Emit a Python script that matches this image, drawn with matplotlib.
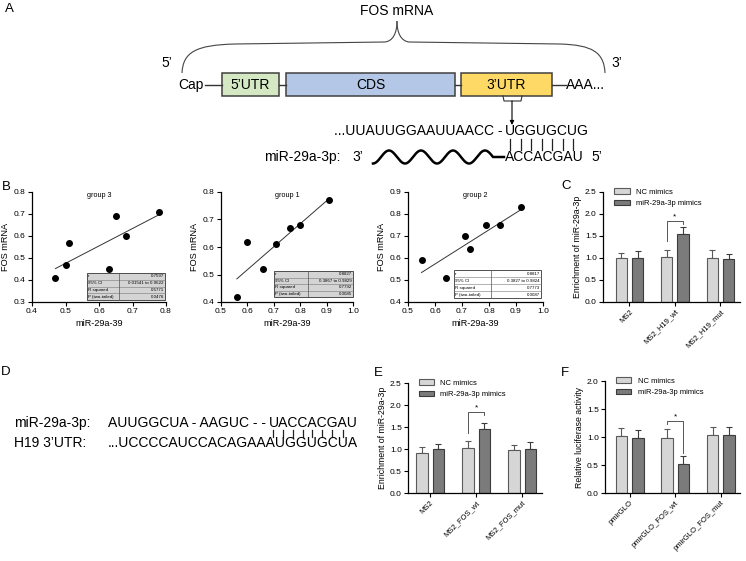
import numpy as np
import matplotlib
matplotlib.use('Agg')
import matplotlib.pyplot as plt
from matplotlib.patches import Rectangle, PathPatch, Patch
from matplotlib.path import Path
from matplotlib.font_manager import FontProperties
from matplotlib.ticker import FormatStrFormatter, MultipleLocator

plt.rcParams['font.family'] = ['Liberation Sans', 'DejaVu Sans']
FAM = ['Liberation Sans', 'DejaVu Sans']

# ------------------------------------------------------------------ data
# Panel A
mrna_regions = ["5\u2019UTR", "CDS", "3\u2019UTR"]
region_colors = ['#d5e8c4', '#b4c7e7', '#ffd966']
fos_upstream = "...UUAUUGGAAUUAACC -"
fos_site = "UGGUGCUG"
mir_seed_A = "ACCACGAU"
n_pairs_A = 7
# Panel D
mir_prefix_D = "AUUGGCUA - AAGUC - -"
mir_seed_D = "UACCACGAU"
h19_line_D = "...UCCCCAUCCACAGAAAUGGUGCUA"
n_pairs_D = 8

# Panel B
group_titles = ['group 3', 'group 1', 'group 2']
mir_g3 = [0.47, 0.50, 0.51, 0.63, 0.65, 0.68, 0.78]
fos_g3 = [0.41, 0.47, 0.57, 0.45, 0.69, 0.60, 0.71]
mir_g1 = [0.56, 0.60, 0.66, 0.71, 0.76, 0.80, 0.91]
fos_g1 = [0.42, 0.62, 0.52, 0.61, 0.67, 0.68, 0.77]
mir_g2 = [0.55, 0.64, 0.71, 0.73, 0.79, 0.84, 0.92]
fos_g2 = [0.59, 0.51, 0.70, 0.64, 0.75, 0.75, 0.83]
stats_rows = ['r', '95% CI', 'R squared', 'P (two-tailed)']
stats_g3 = ['0.7597', '0.01541 to 0.9622', '0.5771', '0.0476']
stats_g1 = ['0.8827', '0.3867 to 0.9829', '0.7792', '0.0085']
stats_g2 = ['0.8817', '0.3827 to 0.9824', '0.7773', '0.0087']

# Bar panels
legend_labels = ['NC mimics', 'miR-29a-3p mimics']
cats_C = ['MS2', 'MS2_H19_wt', 'MS2_H19_mut']
nc_C = [0.99, 1.03, 1.01]
nc_C_sd = [0.13, 0.16, 0.18]
mir_C = [1.01, 1.55, 0.97]
mir_C_sd = [0.14, 0.16, 0.12]
sig_C = [1.38, 1.84, 1.78]

cats_E = ['MS2', 'MS2_FOS_wt', 'MS2_FOS_mut']
nc_E = [0.92, 1.03, 0.98]
nc_E_sd = [0.12, 0.15, 0.12]
mir_E = [0.99, 1.46, 1.00]
mir_E_sd = [0.12, 0.13, 0.15]
sig_E = [1.37, 1.84, 1.78]

cats_F = ['pmirGLO', 'pmirGLO_FOS_wt', 'pmirGLO_FOS_mut']
nc_F = [1.02, 0.98, 1.03]
nc_F_sd = [0.14, 0.16, 0.14]
mir_F = [0.98, 0.52, 1.04]
mir_F_sd = [0.14, 0.14, 0.13]
sig_F = [1.23, 1.29, 0.72]

# ------------------------------------------------------------------ figure
W, H = 746, 561
fig = plt.figure(figsize=(W / 100, H / 100), dpi=100)


def px_axes(x0, y0, x1, y1):
    return fig.add_axes([x0 / W, 1 - y1 / H, (x1 - x0) / W, (y1 - y0) / H])


def text_w(renderer, s, size):
    fp = FontProperties(family=FAM, size=size)
    w, h, d = renderer.get_text_width_height_descent(s, fp, ismath=False)
    return w


def style_axes(ax):
    for s in ['top', 'right']:
        ax.spines[s].set_visible(False)
    for s in ['left', 'bottom']:
        ax.spines[s].set_linewidth(0.9)
    ax.tick_params(direction='out', length=3, width=0.8, labelsize=6, pad=1.5)


# ------------------------------------------------------------------ Panel B
b_axes_px = [(32, 192, 166, 302), (221, 192, 353, 302), (408, 192, 543, 302)]
b_xlims = [(0.4, 0.8), (0.5, 1.0), (0.5, 1.0)]
b_ylims = [(0.3, 0.8), (0.4, 0.8), (0.4, 0.9)]
b_data = [(mir_g3, fos_g3, stats_g3), (mir_g1, fos_g1, stats_g1), (mir_g2, fos_g2, stats_g2)]
b_tables = [(87, 273, 165, 300, 119, '#d4d4d4'), (274, 271, 353, 297, 308, '#d4d4d4'),
            (454, 270, 541, 298, 491, '#ffffff')]

for (pos, xl, yl, (xs, ys, st), title) in zip(b_axes_px, b_xlims, b_ylims, b_data, group_titles):
    ax = px_axes(*pos)
    style_axes(ax)
    ax.set_xlim(*xl)
    ax.set_ylim(*yl)
    ax.xaxis.set_major_locator(MultipleLocator(0.1))
    ax.yaxis.set_major_locator(MultipleLocator(0.1))
    ax.xaxis.set_major_formatter(FormatStrFormatter('%.1f'))
    ax.yaxis.set_major_formatter(FormatStrFormatter('%.1f'))
    ax.scatter(xs, ys, s=16, color='black', zorder=3, clip_on=False)
    k, b = np.polyfit(xs, ys, 1)
    xx = np.array([min(xs), max(xs)])
    ax.plot(xx, k * xx + b, color='#333333', lw=0.7)
    ax.set_xlabel('miR-29a-39', fontsize=6.6, labelpad=3)
    ax.set_ylabel('FOS mRNA', fontsize=6.6, labelpad=3)
    ax.text(0.5, 0.97, title, transform=ax.transAxes, ha='center', va='center', fontsize=5.2)

# ------------------------------------------------------------------ bar panels
NC_COL, NC_EDGE = '#d6d6d6', '#5a5a5a'
MI_COL, MI_EDGE = '#7b7b7b', '#3c3c3c'


def bar_panel(pos, xlim, ylim, step, cats, nc, nc_sd, mi, mi_sd, sig, ylabel):
    ax = px_axes(*pos)
    style_axes(ax)
    x = np.arange(len(cats))
    wbar, off = 0.25, 0.18
    ax.bar(x - off, nc, wbar, color=NC_COL, edgecolor=NC_EDGE, lw=0.8, zorder=2)
    ax.bar(x + off, mi, wbar, color=MI_COL, edgecolor=MI_EDGE, lw=0.8, zorder=2)
    ax.errorbar(x - off, nc, yerr=[np.zeros(len(nc)), nc_sd], fmt='none', ecolor=NC_EDGE,
                elinewidth=0.8, capsize=2.5, capthick=0.8, zorder=1)
    ax.errorbar(x + off, mi, yerr=[np.zeros(len(mi)), mi_sd], fmt='none', ecolor=MI_EDGE,
                elinewidth=0.8, capsize=2.5, capthick=0.8, zorder=1)
    ax.set_xlim(*xlim)
    ax.set_ylim(*ylim)
    ax.yaxis.set_major_locator(MultipleLocator(step))
    ax.yaxis.set_major_formatter(FormatStrFormatter('%.1f'))
    ax.set_xticks(x)
    ax.set_xticklabels(cats, rotation=45, ha='right', rotation_mode='anchor', fontsize=5.5)
    ax.set_ylabel(ylabel, fontsize=6.3, labelpad=2)
    xl, xr = 1 - off, 1 + off
    lb, top, rb = sig
    ax.plot([xl, xl, xr, xr], [lb, top, top, rb], color='#555555', lw=0.7)
    ax.text(1, top + (ylim[1] * 0.005), '*', ha='center', va='bottom', fontsize=6)
    handles = [Patch(facecolor=NC_COL, edgecolor=NC_EDGE, lw=0.8),
               Patch(facecolor=MI_COL, edgecolor=MI_EDGE, lw=0.8)]
    ax.legend(handles, legend_labels, loc='upper left', bbox_to_anchor=(0.06, 1.06),
              frameon=False, fontsize=5.5, handlelength=2.0, handleheight=0.7,
              labelspacing=0.55, handletextpad=0.8, borderaxespad=0)
    return ax


bar_panel((603, 192, 740, 302), (-0.58, 2.43), (0, 2.5), 0.5, cats_C, nc_C, nc_C_sd,
          mir_C, mir_C_sd, sig_C, 'Enrichment of miR-29a-3p')
bar_panel((408, 383, 542, 493), (-0.48, 2.43), (0, 2.5), 0.5, cats_E, nc_E, nc_E_sd,
          mir_E, mir_E_sd, sig_E, 'Enrichment of miR-29a-3p')
bar_panel((605, 381, 740, 493), (-0.54, 2.42), (0, 2.0), 0.5, cats_F, nc_F, nc_F_sd,
          mir_F, mir_F_sd, sig_F, 'Relative luciferase activity')

# ------------------------------------------------------------------ overlay (pixel coords)
ov = fig.add_axes([0, 0, 1, 1])
ov.set_xlim(0, W)
ov.set_ylim(H, 0)
ov.axis('off')
ov.patch.set_visible(False)

# stats tables
for (x0, y0, x1, y1, xd, fc), (xs, ys, st) in zip(b_tables, b_data):
    ov.add_patch(Rectangle((x0, y0), x1 - x0, y1 - y0, facecolor=fc, edgecolor='#333333', lw=0.6))
    nrow = len(stats_rows)
    rh = (y1 - y0) / nrow
    for i in range(1, nrow):
        ov.plot([x0, x1], [y0 + i * rh, y0 + i * rh], color='#777777', lw=0.4)
    ov.plot([xd, xd], [y0, y1], color='#555555', lw=0.5)
    for i, (lab, val) in enumerate(zip(stats_rows, st)):
        yc = y0 + (i + 0.5) * rh
        ov.text(x0 + 1.2, yc, lab, fontsize=3.2, ha='left', va='center')
        ov.text(x1 - 1.2, yc, val, fontsize=3.2, ha='right', va='center')

# panel letters
for lab, (x, y) in zip('ABCDEF', [(9, 9), (6, 187), (566, 186), (6, 372), (378, 373), (565, 373)]):
    ov.text(x, y, lab, fontsize=9.5, ha='center', va='center')

# ---- Panel A diagram
FS = 10
ov.text(397, 11, 'FOS mRNA', fontsize=FS, ha='center', va='center')
brace_l = Path([(182, 73), (183, 52), (196, 45), (235, 44), (385, 42), (393, 41), (397, 33), (397, 21)],
               [Path.MOVETO, Path.CURVE4, Path.CURVE4, Path.CURVE4, Path.LINETO, Path.CURVE4,
                Path.CURVE4, Path.CURVE4])
brace_r = Path([(605, 73), (604, 52), (592, 45), (560, 44), (409, 42), (401, 41), (397, 33), (397, 21)],
               [Path.MOVETO, Path.CURVE4, Path.CURVE4, Path.CURVE4, Path.LINETO, Path.CURVE4,
                Path.CURVE4, Path.CURVE4])
for p in (brace_l, brace_r):
    ov.add_patch(PathPatch(p, fill=False, edgecolor='#444444', lw=0.8))
ov.text(167, 63, "5\u2019", fontsize=FS, ha='center', va='center')
ov.text(617, 63, "3\u2019", fontsize=FS, ha='center', va='center')

ymid = 84.5
box_x = [(222, 279), (286, 455), (461, 552)]
ov.text(204, ymid, 'Cap', fontsize=FS, ha='right', va='center')
for (a, b) in [(205, 222), (279, 286), (455, 461), (552, 566)]:
    ov.plot([a, b], [ymid, ymid], color='#333333', lw=1.0)
for (a, b), lab, col in zip(box_x, mrna_regions, region_colors):
    ov.add_patch(Rectangle((a, 73), b - a, 23, facecolor=col, edgecolor='#404040', lw=1.1))
    ov.text((a + b) / 2, ymid, lab, fontsize=FS, ha='center', va='center')
ov.text(566, ymid, 'AAA...', fontsize=FS, ha='left', va='center')

ov.plot([503, 504, 521, 522], [96, 101, 101, 96], color='#333333', lw=0.8)
ov.annotate('', xy=(512, 125), xytext=(512, 101),
            arrowprops=dict(arrowstyle='-|>', lw=0.8, color='black', mutation_scale=6,
                            shrinkA=0, shrinkB=0))

site_x = 505
y_top, y_bot = 131, 157
ov.text(site_x - 3, y_top, fos_upstream, fontsize=FS, ha='right', va='center')
t_site = ov.text(site_x, y_top, fos_site, fontsize=FS, ha='left', va='center')
ov.text(site_x, y_bot, mir_seed_A, fontsize=FS, ha='left', va='center')
ov.text(597, y_bot, "5\u2019", fontsize=FS, ha='center', va='center')
ov.text(340, y_bot, 'miR-29a-3p:', fontsize=FS, ha='right', va='center')
ov.text(358, y_bot, "3\u2019", fontsize=FS, ha='center', va='center')
period = 32.0
xw = np.linspace(373, 373 + 3.75 * period, 400)
yw = y_bot + 6.5 * np.cos(2 * np.pi * (xw - 373) / period)
ov.plot(np.r_[xw, site_x - 1], np.r_[yw, y_bot], color='black', lw=1.8)

# ---- Panel D
xD = 108
ov.text(14, 423, 'miR-29a-3p:', fontsize=FS, ha='left', va='center')
ov.text(14, 443, 'H19 3\u2019UTR:', fontsize=FS, ha='left', va='center')
t_pre = ov.text(xD, 423, mir_prefix_D, fontsize=FS, ha='left', va='center')
ov.text(xD, 443, h19_line_D, fontsize=FS, ha='left', va='center')

fig.canvas.draw()
rend = fig.canvas.get_renderer()
bb_pre = t_pre.get_window_extent(rend)
space_w = text_w(rend, 'A A', FS) - text_w(rend, 'AA', FS)
seed_x = bb_pre.x1 + space_w
t_seed = ov.text(seed_x, 423, mir_seed_D, fontsize=FS, ha='left', va='center')
fig.canvas.draw()


def glyph_centers(tobj, s):
    bb = tobj.get_window_extent(rend)
    total = text_w(rend, s, FS)
    out = []
    for i, ch in enumerate(s):
        c = text_w(rend, s[:i + 1], FS) - text_w(rend, ch, FS) / 2
        out.append(bb.x0 + c / total * (bb.x1 - bb.x0))
    return out


for cx in glyph_centers(t_site, fos_site)[:n_pairs_A]:
    ov.plot([cx, cx], [138.5, 149.5], color='#222222', lw=0.9)
for cx in glyph_centers(t_seed, mir_seed_D)[:n_pairs_D]:
    ov.plot([cx, cx], [429.5, 437], color='#222222', lw=0.9)

fig.savefig('out.png', dpi=100)
